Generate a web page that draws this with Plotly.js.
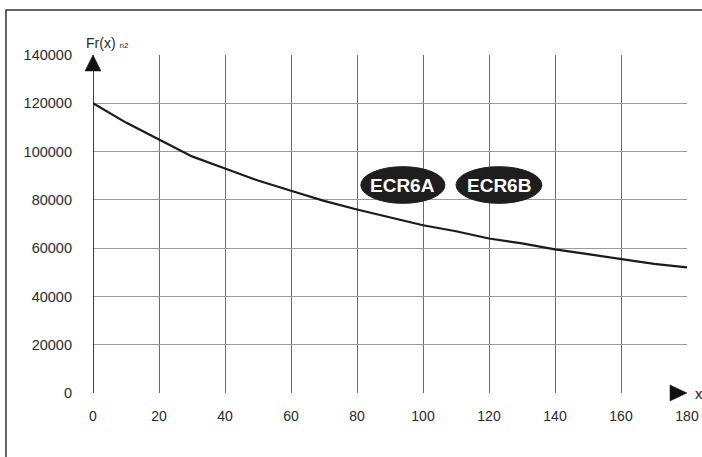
<!DOCTYPE html>
<html>
<head>
<meta charset="utf-8">
<script src="https://cdn.plot.ly/plotly-3.0.1.min.js"></script>
<style>html,body{margin:0;padding:0;background:#fff;}#chart{width:702px;height:457px;}</style>
</head>
<body>
<div id="chart"></div>
<script>
// Data
const xValues = [0, 10, 20, 30, 40, 50, 60, 70, 80, 90, 100, 110, 120, 130, 140, 150, 160, 170, 180];
const yValues = [120000, 112000, 105000, 98000, 93000, 88000, 83800, 79600, 76000, 72600, 69500, 67000, 64000, 62000, 59500, 57500, 55500, 53500, 52000];
const xTicks = [0, 20, 40, 60, 80, 100, 120, 140, 160, 180];
const yTicks = [0, 20000, 40000, 60000, 80000, 100000, 120000, 140000];
const badgeLabels = ["ECR6A", "ECR6B"];
const badgeX = [93.9, 123];
const badgeY = 86150;

const fam = "Liberation Sans, Arial, sans-serif";
const font = {family: fam, size: 14, color: "#2a2a2a"};

const trace = {
  x: xValues, y: yValues, type: "scatter", mode: "lines",
  line: {color: "#1a1a1a", width: 2.2}, hoverinfo: "skip"
};

const shapes = [];
// outer frame
shapes.push({type: "rect", xref: "paper", yref: "paper", x0: -0.1465, x1: 1.2, y0: -0.3, y1: 1.1331,
  line: {color: "#333", width: 1.5}, layer: "below"});
// badges
const halfW = [12.75, 13.0];
badgeLabels.forEach((t, i) => {
  shapes.push({type: "circle", xref: "x", yref: "y",
    x0: badgeX[i] - halfW[i], x1: badgeX[i] + halfW[i], y0: badgeY - 7600, y1: badgeY + 7600,
    fillcolor: "#1e1e1e", line: {color: "#1e1e1e", width: 1}});
});
// y axis line
shapes.push({type: "line", xref: "x", yref: "y", x0: 0, x1: 0, y0: 0, y1: 140000, line: {color: "#111", width: 1.6}});
// arrow heads (paper coordinates, not clipped)
shapes.push({type: "path", xref: "paper", yref: "paper",
  path: "M-0.0135,0.9527 L0.0135,0.9527 L0,1 Z", fillcolor: "#111", line: {color: "#111", width: 0.5}});
shapes.push({type: "path", xref: "paper", yref: "paper",
  path: "M0.9714,0.0237 L0.9714,-0.0237 L1,0 Z", fillcolor: "#111", line: {color: "#111", width: 0.5}});

const annotations = badgeLabels.map((t, i) => ({
  x: badgeX[i], y: badgeY, xref: "x", yref: "y", text: "<b>" + t + "</b>", showarrow: false,
  font: {family: fam, size: 19, color: "#fff"}
}));
annotations.push({x: 0.0, y: 1.0, xref: "paper", yref: "paper", xshift: -9, yshift: 2, xanchor: "left", yanchor: "bottom",
  text: "Fr(x) <span style='font-size:8px'>n2</span>", showarrow: false, font: font});
annotations.push({x: 1, y: 0, xref: "paper", yref: "paper", xshift: 6, xanchor: "left", yanchor: "middle",
  text: "x", showarrow: false, font: {family: fam, size: 15, color: "#222"}});

const layout = {
  width: 702, height: 457,
  margin: {l: 93, r: 15, t: 55, b: 64},
  paper_bgcolor: "#fff", plot_bgcolor: "#fff",
  showlegend: false,
  font: font,
  xaxis: {range: [0, 180], tickvals: xTicks, ticktext: xTicks.map(String), showgrid: true,
    gridcolor: "#6a6a6a", gridwidth: 1, zeroline: false, showline: false, ticks: "",
    ticklabelstandoff: 13, tickfont: font, fixedrange: true},
  yaxis: {range: [0, 140000], tickvals: yTicks, ticktext: yTicks.map(String), showgrid: true,
    gridcolor: "#9a9a9a", gridwidth: 1, zeroline: false, showline: false, ticks: "",
    ticklabelstandoff: 20, tickfont: {family: fam, size: 14.5, color: "#2a2a2a"}, fixedrange: true},
  shapes: shapes,
  annotations: annotations
};

Plotly.newPlot("chart", [trace], layout, {staticPlot: true, displayModeBar: false});
</script>
</body>
</html>
